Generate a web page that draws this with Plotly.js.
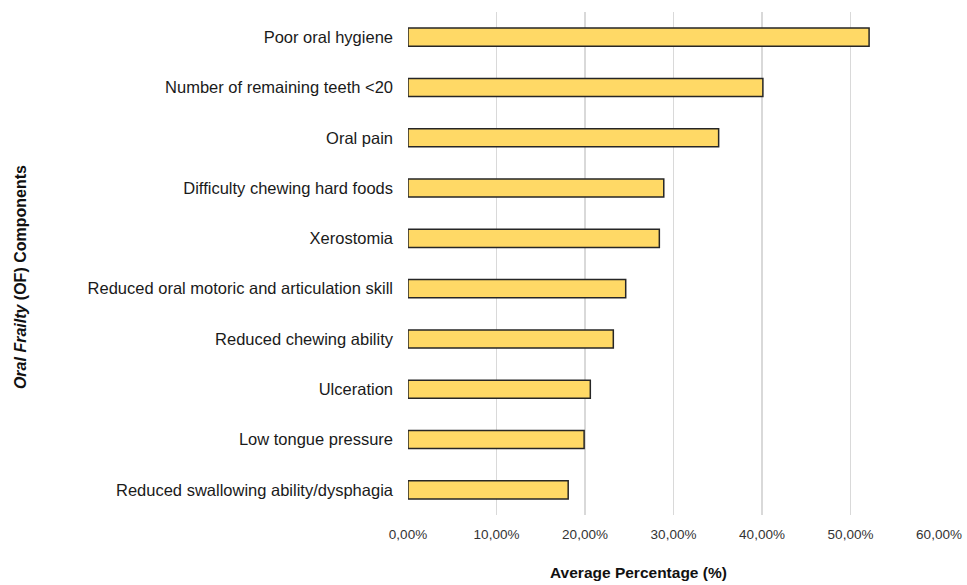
<!DOCTYPE html>
<html>
<head>
<meta charset="utf-8">
<script src="https://cdn.plot.ly/plotly-3.0.1.min.js"></script>
<style>html,body{margin:0;padding:0;background:#fff;}#chart{width:967px;height:585px;}</style>
</head>
<body>
<div id="chart"></div>
<script>
const categories = [
  "Poor oral hygiene",
  "Number of remaining teeth <20",
  "Oral pain",
  "Difficulty chewing hard foods",
  "Xerostomia",
  "Reduced oral motoric and articulation skill",
  "Reduced chewing ability",
  "Ulceration",
  "Low tongue pressure",
  "Reduced swallowing ability/dysphagia"
];
const values = [0.521, 0.401, 0.351, 0.289, 0.284, 0.246, 0.232, 0.206, 0.199, 0.181];
const tickVals = [0, 0.1, 0.2, 0.3, 0.4, 0.5, 0.6];
const tickText = ["0,00%", "10,00%", "20,00%", "30,00%", "40,00%", "50,00%", "60,00%"];

const trace = {
  type: "bar",
  orientation: "h",
  y: categories,
  x: values,
  width: 0.36,
  marker: { color: "#FFD966", line: { color: "#262626", width: 1.5 } },
  hoverinfo: "x+y"
};

const layout = {
  width: 967, height: 585,
  margin: { l: 408, r: 28, t: 12, b: 70 },
  paper_bgcolor: "#fff", plot_bgcolor: "#fff",
  font: { family: "Liberation Sans, Arial, sans-serif", color: "#1a1a1a" },
  showlegend: false,
  xaxis: {
    range: [0, 0.6], tickvals: tickVals, ticktext: tickText,
    showgrid: true, gridcolor: "#d9d9d9", gridwidth: 1.5,
    zeroline: false, showline: false, ticks: "",
    tickfont: { size: 13.5, color: "#333" },
    ticklabelstandoff: 9,
    fixedrange: true
  },
  yaxis: {
    autorange: "reversed", automargin: false,
    showgrid: false, zeroline: false, showline: false, ticks: "",
    tickfont: { size: 16.5, color: "#1a1a1a" },
    ticklabelstandoff: 14,
    fixedrange: true
  },
  annotations: [
    {
      text: "<b><i>Oral Frailty</i> (OF) Components</b>",
      xref: "paper", yref: "paper",
      x: (20 - 408) / 531, y: 0.473,
      xanchor: "center", yanchor: "middle",
      textangle: -90, showarrow: false,
      font: { size: 16, color: "#111" }
    },
    {
      text: "<b>Average Percentage (%)</b>",
      xref: "paper", yref: "paper",
      x: 0.435, y: -0.1153,
      xanchor: "center", yanchor: "middle",
      showarrow: false,
      font: { size: 15.5, color: "#111" }
    }
  ]
};

Plotly.newPlot("chart", [trace], layout, { displayModeBar: false, staticPlot: true });
</script>
</body>
</html>
